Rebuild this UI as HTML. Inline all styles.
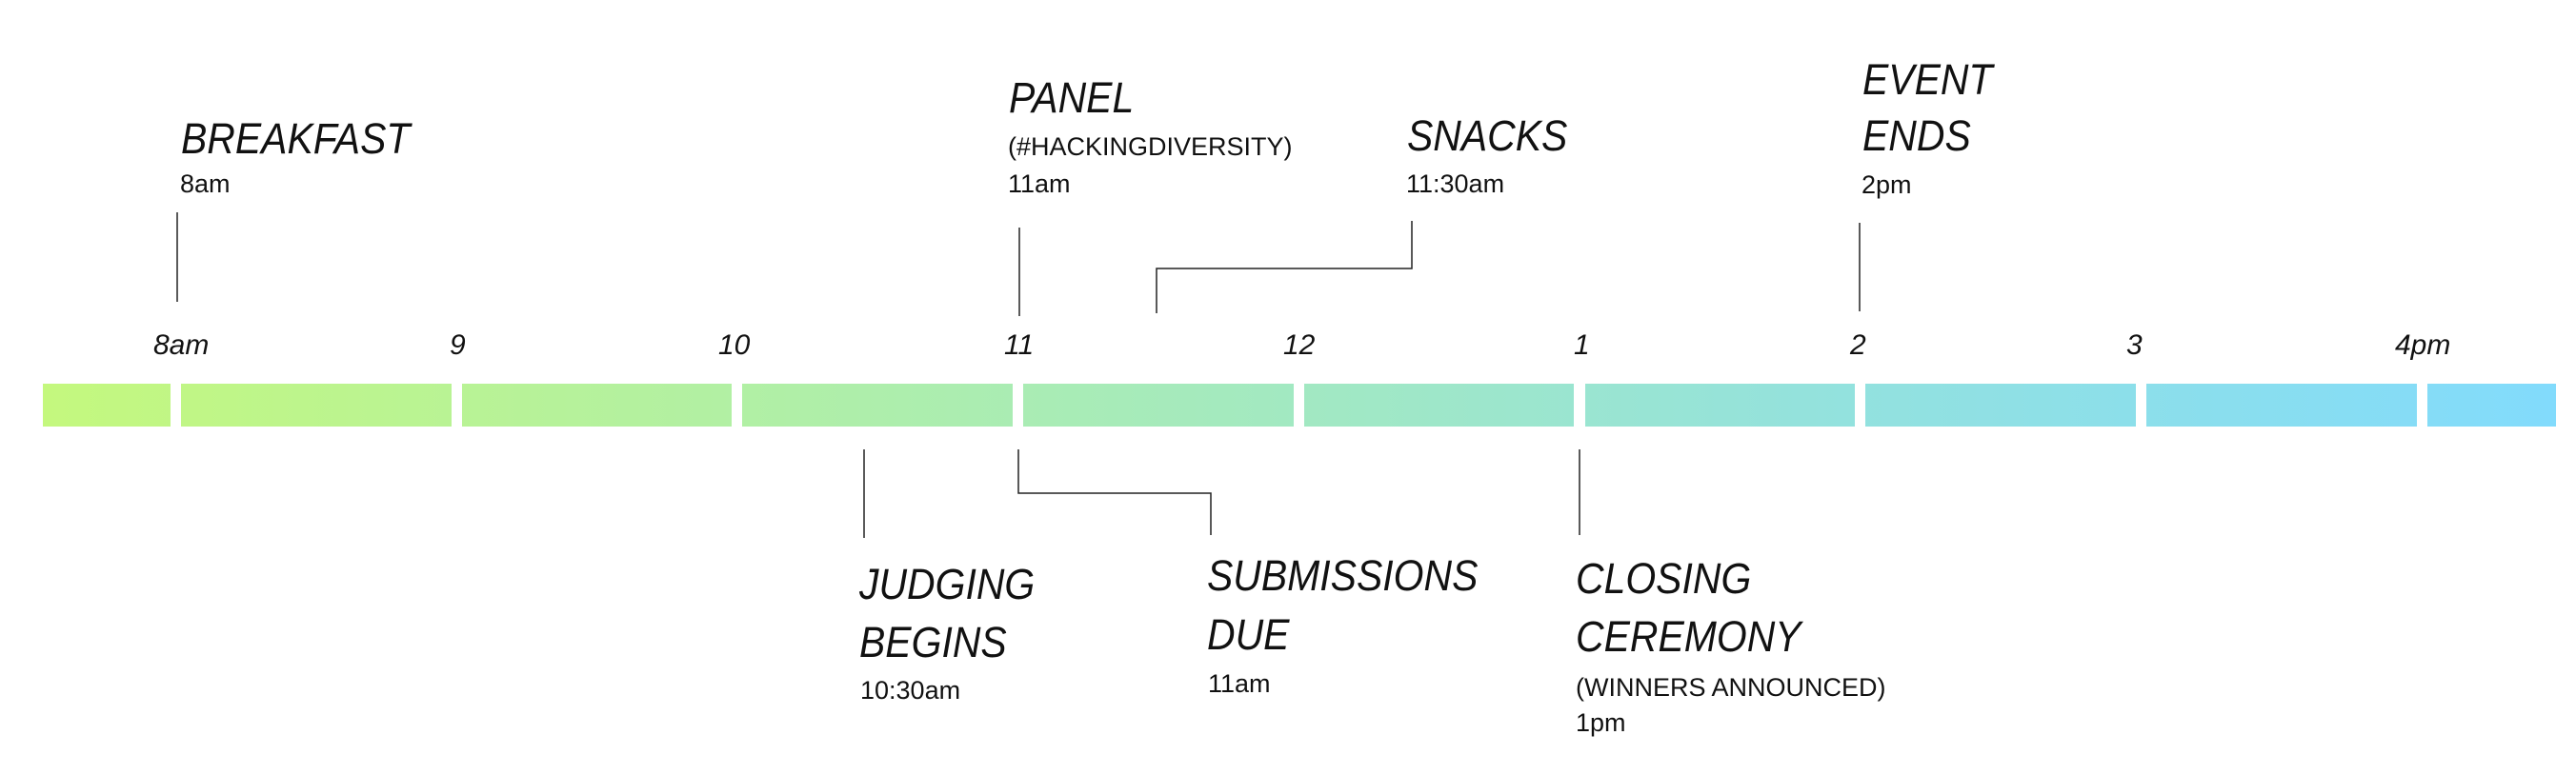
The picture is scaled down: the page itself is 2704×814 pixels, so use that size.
<!DOCTYPE html>
<html><head><meta charset="utf-8"><style>
html,body{margin:0;padding:0;background:#fff;}
svg{display:block;}
text{font-family:"Liberation Sans",sans-serif;fill:#111;}
.t{font-style:italic;font-size:45px;}
.s{font-size:27px;}
.k{font-style:italic;font-size:30px;}
line,polyline{stroke:#222;stroke-width:1.5;fill:none;}
</style></head><body>
<svg width="2704" height="814" viewBox="0 0 2704 814" xmlns="http://www.w3.org/2000/svg">
<defs>
<linearGradient id="g" x1="45" x2="2683" y1="0" y2="0" gradientUnits="userSpaceOnUse">
<stop offset="0" stop-color="#c4f87e"/>
<stop offset="0.4" stop-color="#a9ecb5"/>
<stop offset="0.7" stop-color="#94e2dc"/>
<stop offset="1" stop-color="#82dbfc"/>
</linearGradient>
</defs>
<g fill="url(#g)">
<rect x="45" y="403" width="134" height="45"/>
<rect x="190" y="403" width="284" height="45"/>
<rect x="485" y="403" width="283" height="45"/>
<rect x="779" y="403" width="284" height="45"/>
<rect x="1074" y="403" width="284" height="45"/>
<rect x="1369" y="403" width="283" height="45"/>
<rect x="1664" y="403" width="283" height="45"/>
<rect x="1958" y="403" width="284" height="45"/>
<rect x="2253" y="403" width="284" height="45"/>
<rect x="2548" y="403" width="135" height="45"/>
</g>
<text class="k" x="161" y="372">8am</text>
<text class="k" x="472" y="372">9</text>
<text class="k" x="754" y="372">10</text>
<text class="k" x="1054" y="372">11</text>
<text class="k" x="1347" y="372">12</text>
<text class="k" x="1652" y="372">1</text>
<text class="k" x="1942" y="372">2</text>
<text class="k" x="2232" y="372">3</text>
<text class="k" x="2514" y="372">4pm</text>

<g transform="translate(190,161) scale(.91,1)"><text class="t">BREAKFAST</text></g>
<text class="s" x="189" y="202">8am</text>
<line x1="186" y1="223" x2="186" y2="317"/>

<g transform="translate(1059,118) scale(.91,1)"><text class="t">PANEL</text></g>
<text class="s" x="1058" y="163">(#HACKINGDIVERSITY)</text>
<text class="s" x="1058" y="202">11am</text>
<line x1="1070" y1="239" x2="1070" y2="332"/>

<g transform="translate(1477,158) scale(.91,1)"><text class="t">SNACKS</text></g>
<text class="s" x="1476" y="202">11:30am</text>
<polyline points="1214,329 1214,282 1482,282 1482,232"/>

<g transform="translate(1955,99) scale(.91,1)"><text class="t">EVENT</text></g>
<g transform="translate(1955,158) scale(.91,1)"><text class="t">ENDS</text></g>
<text class="s" x="1954" y="203">2pm</text>
<line x1="1952" y1="234" x2="1952" y2="327"/>

<line x1="907" y1="472" x2="907" y2="565"/>
<g transform="translate(902,629) scale(.91,1)"><text class="t">JUDGING</text></g>
<g transform="translate(902,690) scale(.91,1)"><text class="t">BEGINS</text></g>
<text class="s" x="903" y="734">10:30am</text>

<polyline points="1069,472 1069,518 1271,518 1271,562"/>
<g transform="translate(1267,620) scale(.91,1)"><text class="t">SUBMISSIONS</text></g>
<g transform="translate(1267,682) scale(.91,1)"><text class="t">DUE</text></g>
<text class="s" x="1268" y="727">11am</text>

<line x1="1658" y1="472" x2="1658" y2="562"/>
<g transform="translate(1654,623) scale(.91,1)"><text class="t">CLOSING</text></g>
<g transform="translate(1654,684) scale(.91,1)"><text class="t">CEREMONY</text></g>
<text class="s" x="1654" y="731">(WINNERS ANNOUNCED)</text>
<text class="s" x="1654" y="768">1pm</text>
</svg>
</body></html>
